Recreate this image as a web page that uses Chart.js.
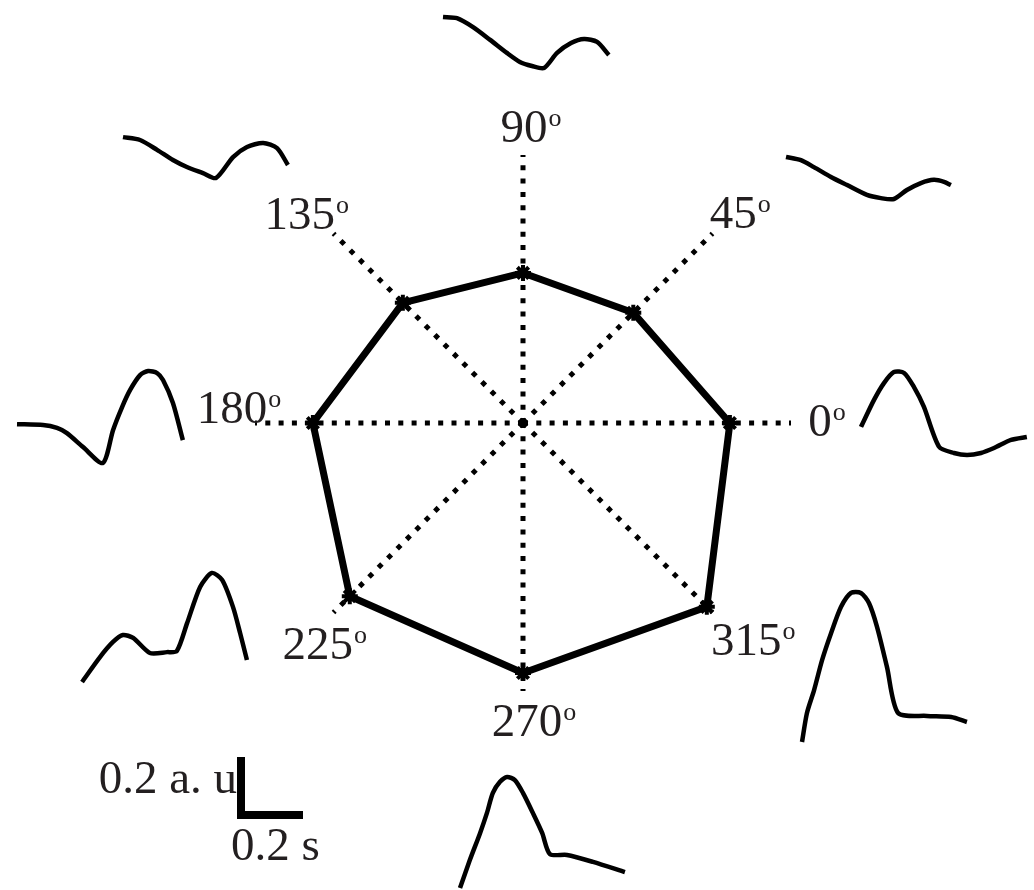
<!DOCTYPE html>
<html>
<head>
<meta charset="utf-8">
<script src="https://cdn.jsdelivr.net/npm/chart.js@4/dist/chart.umd.min.js"></script>
<style>
  html, body { margin: 0; padding: 0; background: #fff; }
  #stage { position: relative; width: 1034px; height: 890px; overflow: hidden; }
  #stage canvas { position: absolute; }
</style>
</head>
<body>
<div id="stage">
  <canvas id="polarChart" width="1034" height="890" style="left:0;top:0"></canvas>
</div>
<script>
// stimulus directions (deg) and normalised response per direction
const directions = [0, 45, 90, 135, 180, 225, 270, 315];
const response = [0.772, 0.582, 0.56, 0.634, 0.784, 0.914, 0.933, 0.97];

// example traces, time in s, amplitude in a.u.
const wave0T = [0, 0.042, 0.074, 0.106, 0.139, 0.171, 0.203, 0.252, 0.3, 0.342, 0.387, 0.429, 0.484, 0.535];
const wave0V = [0.097, 0.19, 0.248, 0.286, 0.283, 0.234, 0.166, 0.028, 0.007, 0, 0.007, 0.024, 0.052, 0.062];
const wave45T = [0, 0.048, 0.09, 0.145, 0.197, 0.261, 0.306, 0.348, 0.39, 0.435, 0.477, 0.51, 0.532];
const wave45V = [0.145, 0.134, 0.11, 0.076, 0.048, 0.014, 0.003, 0, 0.031, 0.055, 0.066, 0.059, 0.048];
const wave90T = [0, 0.045, 0.097, 0.152, 0.206, 0.248, 0.287, 0.326, 0.368, 0.413, 0.455, 0.497, 0.535];
const wave90V = [0.176, 0.172, 0.141, 0.097, 0.052, 0.021, 0.007, 0, 0.052, 0.086, 0.1, 0.09, 0.045];
const wave135T = [0, 0.055, 0.11, 0.161, 0.206, 0.258, 0.3, 0.355, 0.4, 0.452, 0.497, 0.532];
const wave135V = [0.141, 0.131, 0.097, 0.062, 0.038, 0.017, 0, 0.072, 0.107, 0.121, 0.103, 0.045];
const wave180T = [0, 0.084, 0.129, 0.161, 0.213, 0.277, 0.31, 0.339, 0.365, 0.397, 0.423, 0.452, 0.471, 0.503, 0.535];
const wave180V = [0.134, 0.131, 0.121, 0.103, 0.055, 0, 0.114, 0.193, 0.252, 0.303, 0.317, 0.31, 0.286, 0.207, 0.079];
const wave225T = [0, 0.058, 0.1, 0.132, 0.165, 0.219, 0.274, 0.306, 0.339, 0.381, 0.419, 0.452, 0.487, 0.51, 0.532];
const wave225V = [0, 0.086, 0.138, 0.162, 0.152, 0.1, 0.103, 0.107, 0.203, 0.328, 0.376, 0.352, 0.259, 0.169, 0.076];
const wave270T = [0, 0.032, 0.065, 0.087, 0.106, 0.129, 0.152, 0.177, 0.203, 0.235, 0.265, 0.29, 0.345, 0.429, 0.532];
const wave270V = [0, 0.097, 0.19, 0.259, 0.328, 0.366, 0.383, 0.372, 0.328, 0.259, 0.19, 0.117, 0.114, 0.09, 0.055];
const wave315T = [0, 0.016, 0.039, 0.065, 0.094, 0.126, 0.158, 0.19, 0.216, 0.242, 0.274, 0.31, 0.403, 0.481, 0.532];
const wave315V = [0, 0.1, 0.179, 0.283, 0.376, 0.466, 0.514, 0.514, 0.479, 0.397, 0.259, 0.1, 0.09, 0.086, 0.069];

// scale bar size
const barTime = 0.2;
const barAmp = 0.2;

// ---- layout ----
const PX_PER_S = 310;
const PX_PER_AU = 290;
const TEXT = '#231f20';
const SERIF = '"Liberation Serif", "Times New Roman", serif';

// bottom-left corner of each trace on the page
const traceAnchors = {
    0: [861, 455], 45: [786, 199], 90: [443, 68], 135: [123, 178],
    180: [17, 463], 225: [82, 682], 270: [460, 888], 315: [802, 742]
};
// small hand offsets for the direction labels [dx, dy]
const labelNudge = {
    0: [-3, -3], 45: [-2, 1], 90: [1, 3], 135: [-11, 2],
    180: [9, -16], 225: [7, 8], 270: [4, -3], 315: [11, 4]
};
const traces = {
    0: [wave0T, wave0V], 45: [wave45T, wave45V], 90: [wave90T, wave90V], 135: [wave135T, wave135V],
    180: [wave180T, wave180V], 225: [wave225T, wave225V], 270: [wave270T, wave270V], 315: [wave315T, wave315V]
};

const stage = document.getElementById('stage');

/**
 * Polar plot: radar chart goes clockwise from the top, so reorder directions.
 */
const order = directions.map((d, i) => i)
    .sort((a, b) => ((450 - directions[a]) % 360) - ((450 - directions[b]) % 360));

const degreeLabels = {
    id: 'degreeLabels',
    afterDraw(chart) {
        const scale = chart.scales.r;
        const ctx = chart.ctx;
        ctx.save();
        ctx.fillStyle = TEXT;
        ctx.textBaseline = 'alphabetic';
        chart.data.labels.forEach((label, i) => {
            const p = scale.getPointPosition(i, scale.drawingArea + 32);
            const [nx, ny] = labelNudge[label] || [0, 0];
            ctx.font = '47px ' + SERIF;
            const w = ctx.measureText(label).width;
            const cx = p.x + nx;
            const base = p.y + ny + 16;
            ctx.fillText(label, cx - w / 2, base);
            ctx.font = '26px ' + SERIF;
            ctx.fillText('o', cx + w / 2 + 1, base - 16);
        });
        ctx.restore();
    }
};

new Chart(document.getElementById('polarChart').getContext('2d'), {
    type: 'radar',
    data: {
        labels: order.map(i => String(directions[i])),
        datasets: [{
            data: order.map(i => response[i]),
            borderColor: '#000',
            borderWidth: 7,
            borderJoinStyle: 'miter',
            fill: false,
            pointStyle: 'star',
            pointRadius: 8,
            pointBorderWidth: 4,
            pointBorderColor: '#000',
            pointBackgroundColor: '#000'
        }]
    },
    options: {
        responsive: false,
        animation: false,
        events: [],
        layout: { padding: { left: 255, right: 243, top: 155, bottom: 199 } },
        plugins: { legend: { display: false }, tooltip: { enabled: false } },
        scales: {
            r: {
                min: 0,
                max: 1,
                ticks: { display: false },
                grid: { display: false },
                pointLabels: { display: false },
                angleLines: { display: true, color: '#000', lineWidth: 5, borderDash: [5, 8.3] }
            }
        }
    },
    plugins: [degreeLabels]
});

/**
 * Small response traces around the polar plot.
 */
const PAD = 6;
function makeTrace(dir) {
    const [t, v] = traces[dir];
    const [ax, ay] = traceAnchors[dir];
    const w = Math.ceil(Math.max(...t) * PX_PER_S) + 2 * PAD;
    const h = Math.ceil(Math.max(...v) * PX_PER_AU) + 2 * PAD;
    const canvas = document.createElement('canvas');
    canvas.width = w;
    canvas.height = h;
    canvas.style.left = (ax - PAD) + 'px';
    canvas.style.top = (ay - h + PAD) + 'px';
    stage.appendChild(canvas);

    new Chart(canvas.getContext('2d'), {
        type: 'scatter',
        data: {
            datasets: [{
                data: t.map((x, i) => ({ x: x, y: v[i] })),
                showLine: true,
                borderColor: '#000',
                borderWidth: 4.5,
                pointRadius: 0,
                tension: 0.25,
                clip: false
            }]
        },
        options: {
            responsive: false,
            animation: false,
            events: [],
            layout: { padding: 0 },
            plugins: { legend: { display: false }, tooltip: { enabled: false } },
            scales: {
                x: { display: false, min: -PAD / PX_PER_S, max: (w - PAD) / PX_PER_S },
                y: { display: false, min: -PAD / PX_PER_AU, max: (h - PAD) / PX_PER_AU }
            }
        }
    });
}
directions.forEach(makeTrace);

/**
 * Scale bar (0.2 a.u. by 0.2 s), corner at page (241, 815).
 */
const barLabels = {
    id: 'barLabels',
    afterDraw(chart) {
        const ctx = chart.ctx;
        const x0 = chart.scales.x.getPixelForValue(0);
        const y0 = chart.scales.y.getPixelForValue(0);
        const yMid = chart.scales.y.getPixelForValue(barAmp / 2);
        ctx.save();
        ctx.fillStyle = TEXT;
        ctx.font = '47px ' + SERIF;
        ctx.textBaseline = 'alphabetic';
        ctx.textAlign = 'right';
        ctx.fillText('0.2 a. u', x0 - 4, yMid + 7);
        ctx.textAlign = 'left';
        ctx.fillText('0.2 s', x0 - 10, y0 + 45);
        ctx.restore();
    }
};

const barCanvas = document.createElement('canvas');
barCanvas.width = 260;
barCanvas.height = 140;
barCanvas.style.left = '80px';
barCanvas.style.top = '740px';
stage.appendChild(barCanvas);
const cornerX = 241 - 80, cornerY = 815 - 740;
new Chart(barCanvas.getContext('2d'), {
    type: 'scatter',
    data: {
        datasets: [{
            data: [{ x: 0, y: barAmp }, { x: 0, y: 0 }, { x: barTime, y: 0 }],
            showLine: true,
            borderColor: '#000',
            borderWidth: 8,
            borderJoinStyle: 'miter',
            pointRadius: 0,
            clip: false
        }]
    },
    options: {
        responsive: false,
        animation: false,
        events: [],
        layout: {
            padding: {
                left: cornerX,
                right: 260 - cornerX - barTime * PX_PER_S,
                top: cornerY - barAmp * PX_PER_AU,
                bottom: 140 - cornerY
            }
        },
        plugins: { legend: { display: false }, tooltip: { enabled: false } },
        scales: {
            x: { display: false, min: 0, max: barTime },
            y: { display: false, min: 0, max: barAmp }
        }
    },
    plugins: [barLabels]
});
</script>
</body>
</html>
